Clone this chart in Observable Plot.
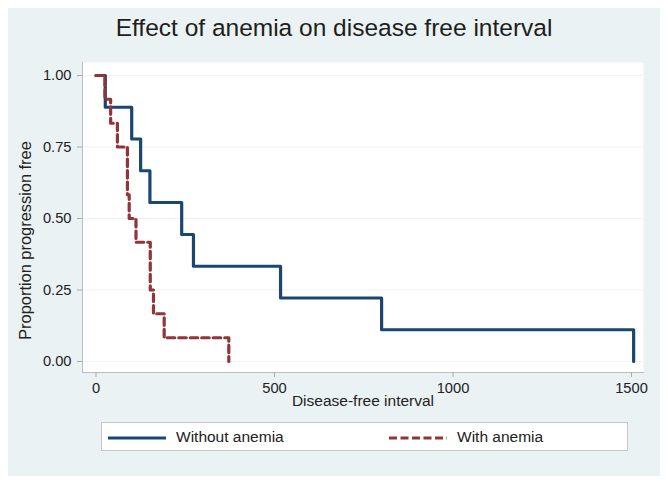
<!DOCTYPE html>
<html>
<head>
<meta charset="utf-8">
<script src="https://cdn.jsdelivr.net/npm/d3@7"></script>
<script src="https://cdn.jsdelivr.net/npm/@observablehq/plot@0.6"></script>
<style>
  body { margin: 0; background: #fff; font-family: "Liberation Sans", Arial, sans-serif; }
  #panel { position: absolute; left: 8px; top: 8px; width: 652px; height: 468px; background: #eaf2f3; }
  #title { position: absolute; left: 8px; top: 16px; width: 652px; text-align: center;
           font-size: 24.5px; line-height: 24.5px; color: #1e1e1e; }
  #chart { position: absolute; left: 0; top: 50px; }
  #legend { position: absolute; left: 101px; top: 422px; width: 527px; height: 29px; box-sizing: border-box;
            background: #fff; border: 1px solid #c4c8c9; font-size: 15.5px; color: #222; }
  .item { position: absolute; top: 0; height: 27px; line-height: 27px; white-space: nowrap; }
  .item svg { vertical-align: middle; margin-right: 10px; }
</style>
</head>
<body>
<div id="panel"></div>
<div id="title">Effect of anemia on disease free interval</div>
<div id="chart"></div>
<div id="legend"></div>
<script>
// Kaplan-Meier steps
const noAnemiaTime = [0, 26, 100, 125, 151, 240, 273, 517, 800, 1506];
const noAnemiaSurv = [1.000, 0.889, 0.778, 0.667, 0.556, 0.444, 0.333, 0.222, 0.111, 0.000];
const anemiaTime = [0, 25, 41, 60, 88, 93, 112, 152, 161, 191, 372];
const anemiaSurv = [1.000, 0.917, 0.833, 0.750, 0.583, 0.500, 0.417, 0.250, 0.167, 0.083, 0.000];

const xTicks = [0, 500, 1000, 1500];
const yTicks = [0, 0.25, 0.5, 0.75, 1];
const seriesNames = ["Without anemia", "With anemia"];
const seriesColors = ["#1a476f", "#90353b"];

const noAnemia = noAnemiaTime.map((t, i) => ({t, s: noAnemiaSurv[i]}));
const anemia = anemiaTime.map((t, i) => ({t, s: anemiaSurv[i]}));

const chart = Plot.plot({
  width: 668,
  height: 370,
  marginLeft: 82,
  marginRight: 25,
  marginTop: 12,
  marginBottom: 48,
  style: { background: "transparent", fontFamily: "Liberation Sans, Arial, sans-serif", fontSize: "14.7px", color: "#222" },
  x: { domain: [0, 1500], range: [95.5, 631] },
  y: { domain: [0, 1], range: [311, 25] },
  marks: [
    Plot.frame({ fill: "white", stroke: "none" }),
    Plot.gridY(yTicks, { stroke: "#edf2f3", strokeOpacity: 1 }),
    Plot.frame({ anchor: "left", stroke: "#b9bcbd" }),
    Plot.frame({ anchor: "bottom", stroke: "#b9bcbd" }),
    Plot.axisY(yTicks, { tickFormat: d3.format(".2f"), tickSize: 5, tickPadding: 6, stroke: "#aaa", label: null }),
    Plot.axisX(xTicks, { tickFormat: d3.format("d"), tickSize: 5, tickPadding: 5, stroke: "#aaa", label: null }),
    Plot.text(["Disease-free interval"], { frameAnchor: "bottom", dy: 33, fontSize: 15.5, fill: "#222" }),
    Plot.text(["Proportion progression free"], { frameAnchor: "left", textAnchor: "middle", rotate: -90, dx: -57, dy: 23, fontSize: 16.4, fill: "#222" }),
    Plot.line(noAnemia, { x: "t", y: "s", curve: "step-after", stroke: seriesColors[0], strokeWidth: 3.2 }),
    Plot.line(anemia, { x: "t", y: "s", curve: "step-after", stroke: seriesColors[1], strokeWidth: 3.2, strokeDasharray: "7.5,4" })
  ]
});
document.getElementById("chart").append(chart);

// legend
const legend = document.getElementById("legend");
const itemLeft = [6, 287];
seriesNames.forEach((name, i) => {
  const div = document.createElement("div");
  div.className = "item";
  div.style.left = itemLeft[i] + "px";
  const dash = i === 1 ? ' stroke-dasharray="8,3.5"' : "";
  div.innerHTML = `<svg width="58" height="6"><line x1="0" x2="58" y1="3" y2="3" stroke="${seriesColors[i]}" stroke-width="3.2"${dash}/></svg>${name}`;
  legend.append(div);
});
</script>
</body>
</html>
